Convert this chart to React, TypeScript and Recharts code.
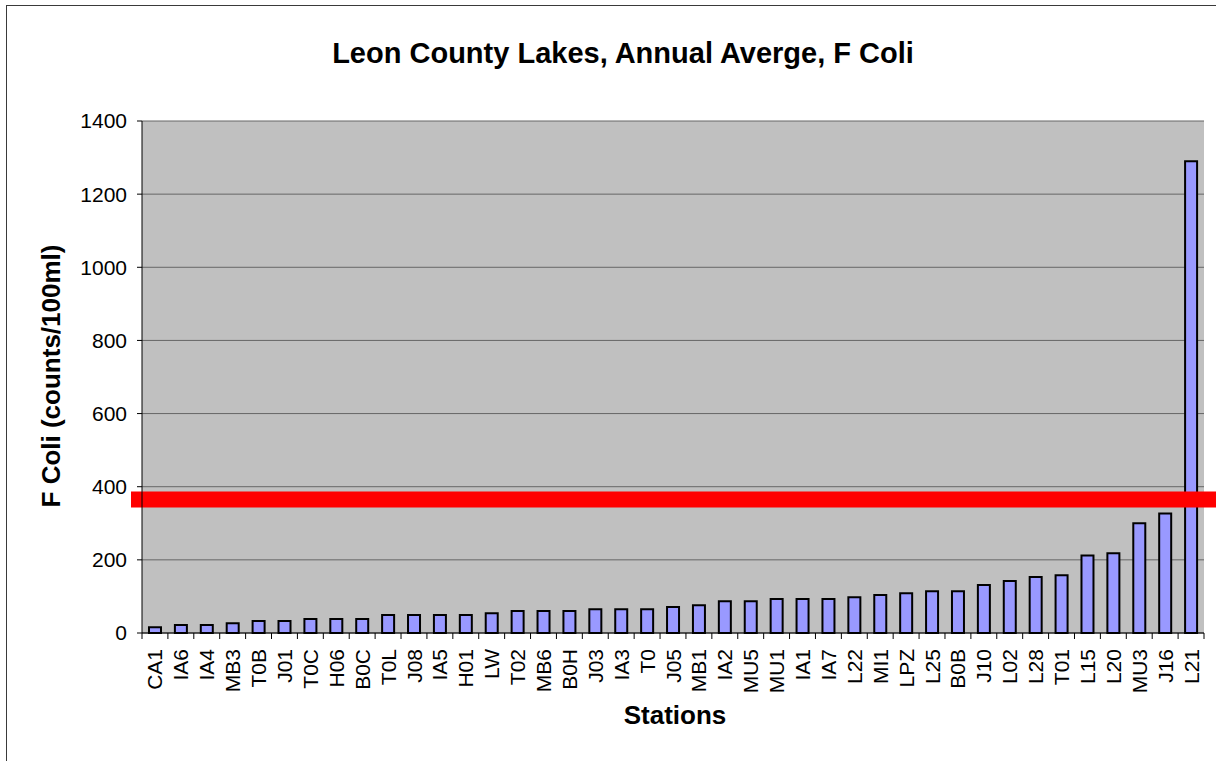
import { BarChart, Bar, XAxis, YAxis, CartesianGrid, ReferenceLine } from 'recharts'

// stations sorted by annual average F Coli
const stations = [
  'CA1', 'IA6', 'IA4', 'MB3', 'T0B', 'J01', 'T0C', 'H06', 'B0C', 'T0L',
  'J08', 'IA5', 'H01', 'LW', 'T02', 'MB6', 'B0H', 'J03', 'IA3', 'T0',
  'J05', 'MB1', 'IA2', 'MU5', 'MU1', 'IA1', 'IA7', 'L22', 'MI1', 'LPZ',
  'L25', 'B0B', 'J10', 'L02', 'L28', 'T01', 'L15', 'L20', 'MU3', 'J16', 'L21'
]

const fColi = [
  16, 22, 22, 27, 33, 33, 38, 38, 38, 49,
  49, 49, 49, 54, 60, 60, 60, 65, 65, 65,
  71, 76, 87, 87, 93, 93, 93, 98, 104, 109,
  114, 114, 131, 142, 153, 158, 212, 218, 300, 327, 1290
]

const yTicks = [0, 200, 400, 600, 800, 1000, 1200, 1400]
const threshold = 365

const data = stations.map((s, i) => ({ station: s, value: fColi[i] }))

const FONT = '"Liberation Sans", Arial, sans-serif'
const W = 1216
const H = 761

function StationTick(props: any) {
  const { x, y, payload, index } = props
  const half = payload && payload.offset ? payload.offset : 12.95
  return (
    <g>
      <line x1={x - half} x2={x - half} y1={y} y2={y + 6} stroke="#000" />
      {index === stations.length - 1 && (
        <line x1={x + half} x2={x + half} y1={y} y2={y + 6} stroke="#000" />
      )}
      <text
        x={x}
        y={y + 16}
        transform={`rotate(-90, ${x}, ${y + 16})`}
        textAnchor="end"
        dy="0.36em"
        fontSize={21}
        fontFamily={FONT}
        fill="#000"
      >
        {payload.value}
      </text>
    </g>
  )
}

export default function App() {
  return (
    <div style={{ position: 'absolute', left: 0, top: 0, width: W, height: H, overflow: 'hidden', background: '#fff', fontFamily: FONT }}>
      <div style={{ position: 'absolute', left: 6, top: 5, width: W + 20, height: H + 20, border: '1px solid #3a3a3a' }} />
      <div style={{ position: 'absolute', left: 0, top: 0 }}>
        <BarChart width={W} height={H} data={data} margin={{ top: 121, right: 12, bottom: 0, left: 0 }} barCategoryGap="27%">
          <CartesianGrid vertical={false} stroke="#666" fill="#c0c0c0" />
          <XAxis
            dataKey="station"
            interval={0}
            height={128}
            tickSize={0}
            tickMargin={0}
            tickLine={false}
            axisLine={{ stroke: '#000' }}
            tick={<StationTick />}
          />
          <YAxis
            width={142}
            domain={[0, 1400]}
            ticks={yTicks}
            interval={0}
            tickSize={5}
            tickMargin={10}
            tickLine={{ stroke: '#000' }}
            axisLine={{ stroke: '#000' }}
            tick={{ fill: '#000', fontSize: 21, fontFamily: FONT }}
          />
          <YAxis
            yAxisId="r"
            orientation="right"
            width={0}
            domain={[0, 1400]}
            tick={false}
            tickLine={false}
            axisLine={{ stroke: '#808080' }}
          />
          <Bar dataKey="value" fill="#9999ff" stroke="#000" strokeWidth={2} isAnimationActive={false} />
          <ReferenceLine
            y={threshold}
            shape={(p: any) => (
              <line x1={p.x1 - 11} x2={W} y1={p.y1} y2={p.y2} stroke="#ff0000" strokeWidth={16} />
            )}
          />
        </BarChart>
      </div>
      <div style={{ position: 'absolute', left: 0, width: 1246, top: 36, textAlign: 'center', fontSize: 29, fontWeight: 'bold', lineHeight: '34px', color: '#000' }}>
        Leon County Lakes, Annual Averge, F Coli
      </div>
      <div style={{ position: 'absolute', left: 475, width: 400, top: 700, textAlign: 'center', fontSize: 26, fontWeight: 'bold', lineHeight: '30px', color: '#000' }}>
        Stations
      </div>
      <div style={{ position: 'absolute', left: 51 - 200, width: 400, top: 376 - 15, textAlign: 'center', fontSize: 26, fontWeight: 'bold', lineHeight: '30px', color: '#000', transform: 'rotate(-90deg)' }}>
        F Coli (counts/100ml)
      </div>
    </div>
  )
}
